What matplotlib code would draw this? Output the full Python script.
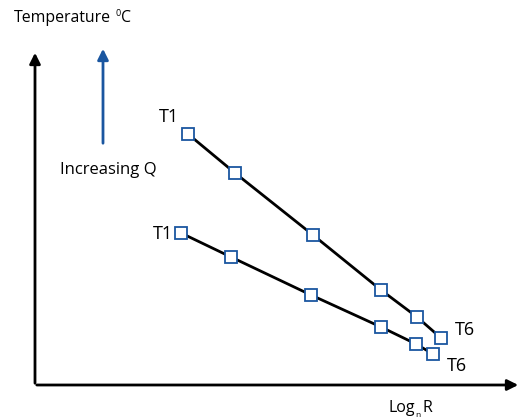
import matplotlib
matplotlib.use("Agg")
import matplotlib.pyplot as plt

# schematic values (log R, temperature) in arbitrary units
logr_hi = [188, 235, 313, 381, 417, 441]
temp_hi = [285, 246, 184, 129, 102, 81]
logr_lo = [181, 231, 311, 381, 416, 433]
temp_lo = [186, 162, 124, 92, 75, 65]

plt.rcParams['font.family'] = ['Open Sans', 'DejaVu Sans']

fig = plt.figure(figsize=(5.31, 4.19), dpi=100)
ax = fig.add_axes([0, 0, 1, 1])
ax.set_xlim(0, 531)
ax.set_ylim(0, 419)
ax.axis('off')

blue = '#1a56a0'

# axes arrows
ax.annotate('', xy=(35, 369), xytext=(35, 33),
            arrowprops=dict(arrowstyle='-|>', color='k', lw=2, mutation_scale=16))
ax.annotate('', xy=(521, 34), xytext=(34, 34),
            arrowprops=dict(arrowstyle='-|>', color='k', lw=2, mutation_scale=16))
ax.annotate('', xy=(103, 373), xytext=(103, 273),
            arrowprops=dict(arrowstyle='-|>', color=blue, lw=2, mutation_scale=16))

for xs, ys in [(logr_hi, temp_hi), (logr_lo, temp_lo)]:
    ax.plot(xs, ys, color='k', lw=2, zorder=2)
    ax.plot(xs, ys, ls='none', marker='s', ms=8, mfc='white', mec=blue, mew=1.3, zorder=3)

ax.text(14, 401, 'Temperature', fontsize=11.4, va='center', ha='left')
ax.text(116, 405, '0', fontsize=6.5, va='center', ha='left')
ax.text(121, 401, 'C', fontsize=11.4, va='center', ha='left')
ax.text(108, 249, 'Increasing Q', fontsize=12, va='center', ha='center')
ax.text(169, 302, 'T1', fontsize=13, va='center', ha='center')
ax.text(163, 185, 'T1', fontsize=13, va='center', ha='center')
ax.text(465, 89, 'T6', fontsize=13, va='center', ha='center')
ax.text(457, 53, 'T6', fontsize=13, va='center', ha='center')
ax.text(388, 11, 'Log', fontsize=11.5, va='center', ha='left')
ax.text(415, 4, 'n', fontsize=6, va='center', ha='left')
ax.text(422, 11, 'R', fontsize=11.5, va='center', ha='left')

fig.savefig('out.png', dpi=100)
